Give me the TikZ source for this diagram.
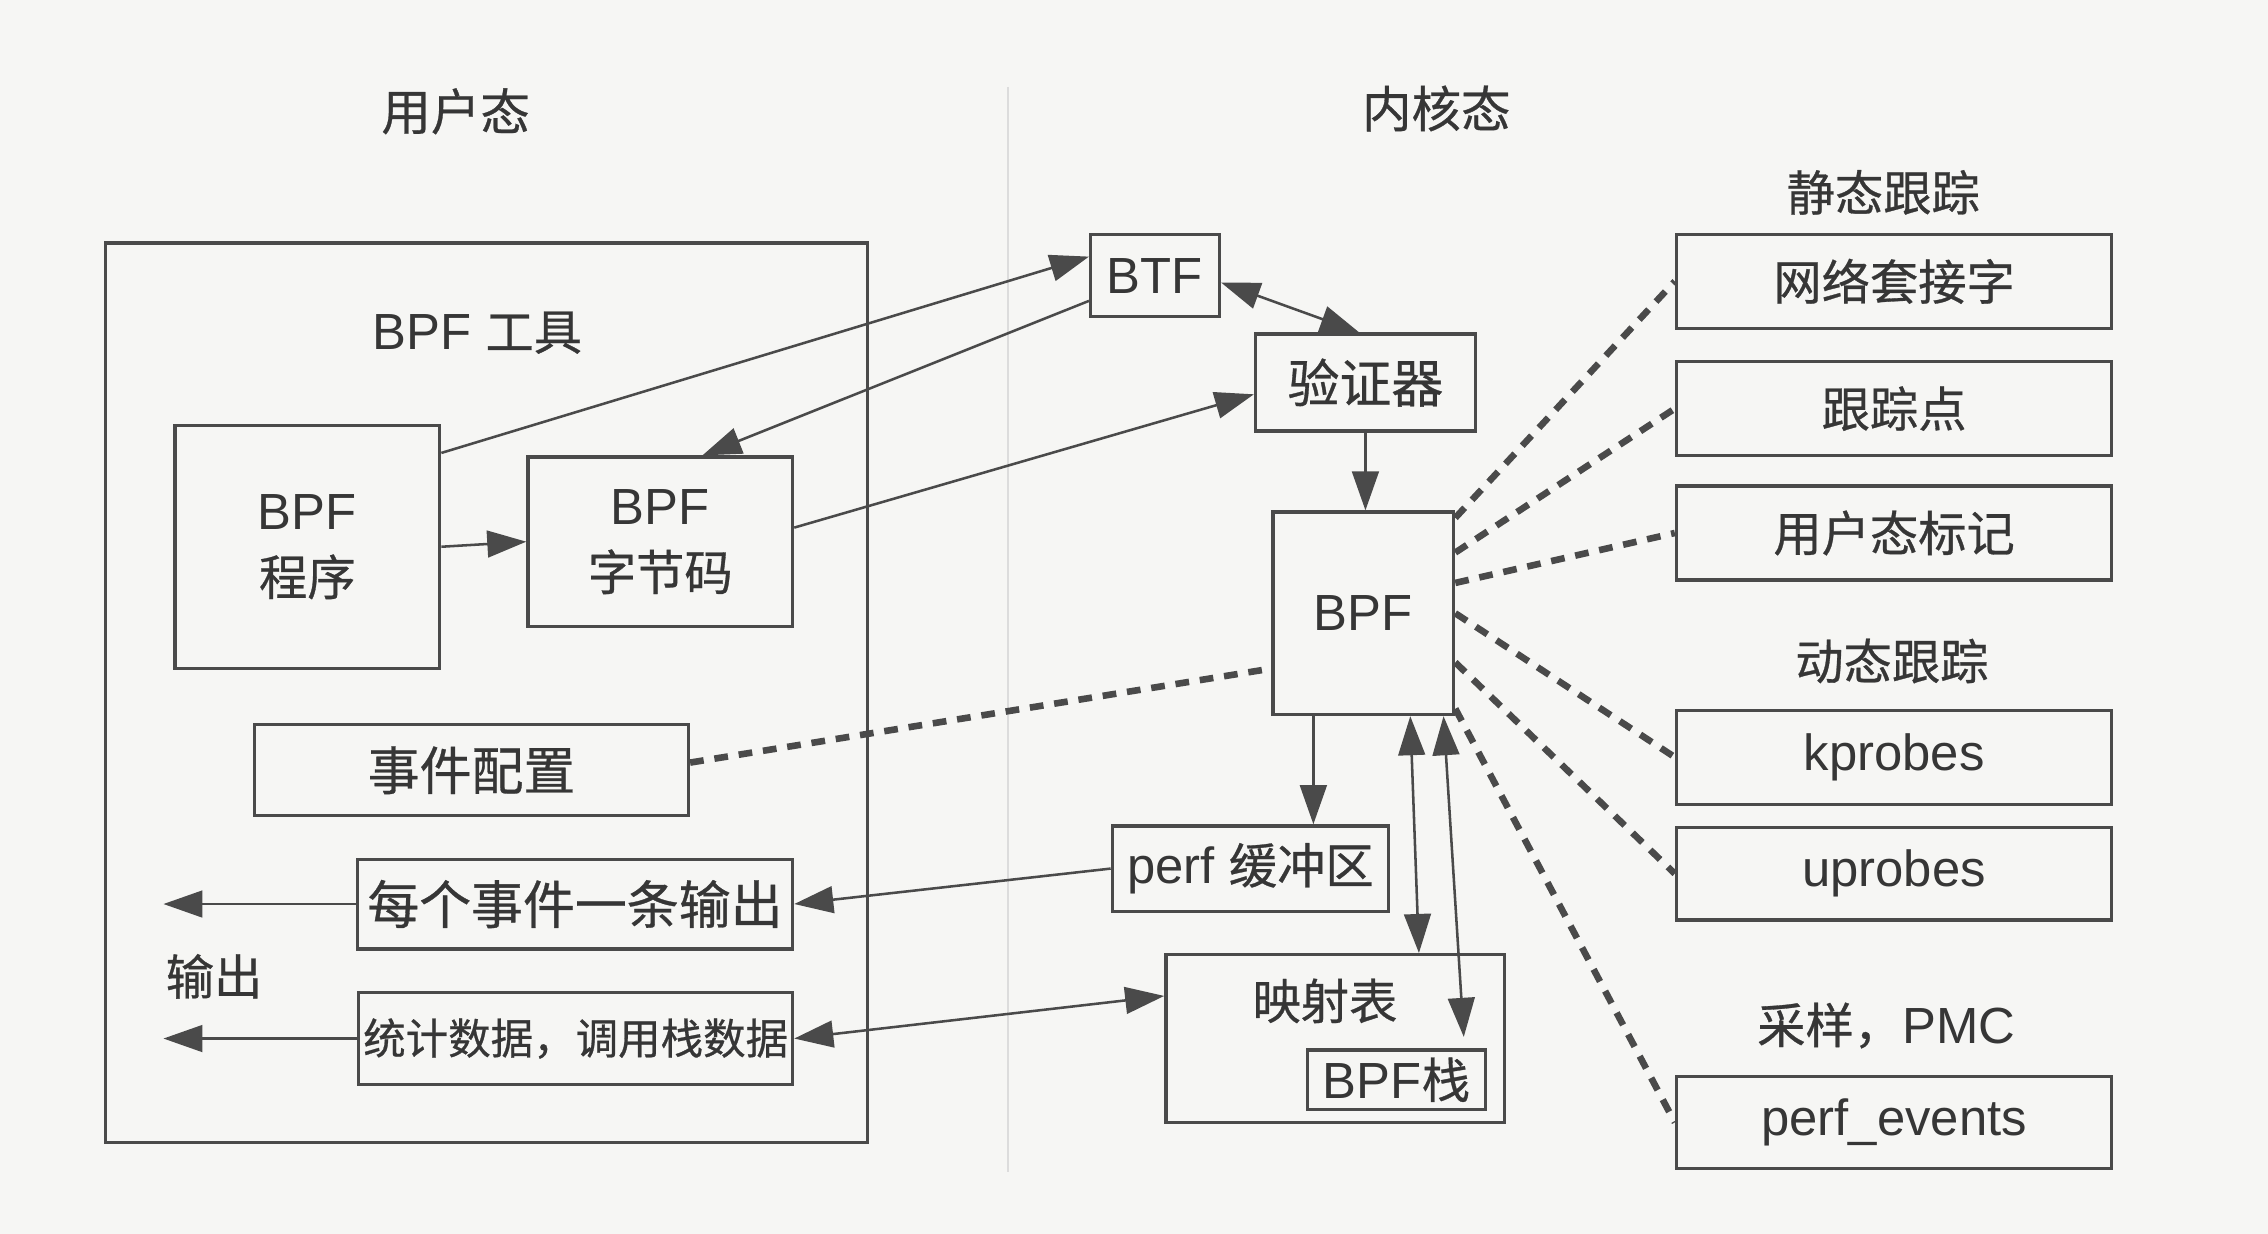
\documentclass[tikz,border=0pt]{standalone}
\usepackage{fontspec}
\setmainfont{Liberation Sans}
\newfontfamily\cjkfont[Scale=0.95,FakeBold=0.6]{Noto Sans CJK SC}
\usetikzlibrary{arrows.meta,calc}
\definecolor{bgc}{HTML}{F6F6F4}
\definecolor{linec}{HTML}{4A4A4A}
\definecolor{txtc}{HTML}{363636}
\definecolor{divc}{HTML}{DCDCDC}
\newcommand\zhtext[1]{{\cjkfont #1}}
\tikzset{
  box/.style={draw=linec, line width=1.3pt, fill=bgc, inner sep=0pt, align=center},
  lbl/.style={inner sep=0pt, align=center},
  big/.style={font=\fontsize{21.5}{26}\selectfont},
  tipa/.tip={Triangle[length=0.54cm,width=0.37cm]},
  arr/.style={draw=linec, line width=1pt, -tipa},
  darr/.style={draw=linec, line width=1pt, tipa-tipa},
  dotl/.style={draw=linec, line width=2.6pt, dash pattern=on 0.19cm off 0.15cm},
}
\begin{document}
\begin{tikzpicture}[x=0.02cm, y=-0.02cm, font=\fontsize{20}{26}\selectfont, text=txtc]
\fill[bgc] (0,0) rectangle (1568,853.1);
\useasboundingbox (0,0) rectangle (1568,853.1);
% divider
\draw[divc, line width=0.6pt] (697,60) -- (697,810);
% titles
\node[lbl, font=\fontsize{20.5}{26}\selectfont] (tuser) at (315,77) {\zhtext{用户态}};
\node[lbl, font=\fontsize{20.5}{26}\selectfont] (tkern) at (993,75) {\zhtext{内核态}};
% user side
\node[box, minimum width=10.54cm, minimum height=12.44cm] (tool) at (336.5,479) {};
\node[lbl] (tooll) at (330,230) {BPF \zhtext{工具}};
\node[box, minimum width=3.66cm, minimum height=3.36cm] (prog) at (212.5,378) {BPF\\\zhtext{程序}};
\node[box, minimum width=3.66cm, minimum height=2.34cm] (bc) at (456.5,374.5) {BPF\\\zhtext{字节码}};
\node[box, big, minimum width=6.0cm, minimum height=1.26cm] (evcfg) at (326,532.5) {\zhtext{事件配置}};
\node[box, big, minimum width=6.02cm, minimum height=1.24cm] (perev) at (397.5,625) {\zhtext{每个事件一条输出}};
\node[box, minimum width=6.0cm, minimum height=1.28cm, font=\fontsize{17.6}{20}\selectfont] (stats) at (398,718) {\zhtext{统计数据，调用栈数据}};
\node[lbl] (outl) at (148,675) {\zhtext{输出}};
\coordinate (o1) at (113,625);
\coordinate (o2) at (113,718);
% kernel side
\node[box, minimum width=1.78cm, minimum height=1.14cm] (btf) at (798.5,190.5) {BTF};
\node[box, big, minimum width=3.04cm, minimum height=1.34cm] (verif) at (944,264.5) {\zhtext{验证器}};
\node[box, minimum width=2.5cm, minimum height=2.8cm] (bpf) at (942.5,424) {BPF};
\node[box, minimum width=3.82cm, minimum height=1.18cm] (perfbuf) at (864.5,600.5) {perf \zhtext{缓冲区}};
\node[box, minimum width=4.68cm, minimum height=2.32cm] (maps) at (923,718) {};
\node[lbl] (mapsl) at (916,692) {\zhtext{映射表}};
\node[box, minimum width=2.46cm, minimum height=0.82cm] (stack) at (965.5,746.5) {BPF\zhtext{栈}};
% right side
\node[lbl] (stl) at (1302,133) {\zhtext{静态跟踪}};
\node[lbl] (dyl) at (1308,457) {\zhtext{动态跟踪}};
\node[lbl] (sal) at (1304,709) {\zhtext{采样，}PMC};
\node[box, minimum width=6.02cm, minimum height=1.3cm] (sock) at (1309.5,194.5) {\zhtext{网络套接字}};
\node[box, minimum width=6.02cm, minimum height=1.3cm] (tp) at (1309.5,282.5) {\zhtext{跟踪点}};
\node[box, minimum width=6.02cm, minimum height=1.3cm] (usdt) at (1309.5,368.5) {\zhtext{用户态标记}};
\node[box, minimum width=6.02cm, minimum height=1.3cm] (kp) at (1309.5,523.5) {kprobes};
\node[box, minimum width=6.02cm, minimum height=1.28cm] (up) at (1309.5,604) {uprobes};
\node[box, minimum width=6.02cm, minimum height=1.28cm] (pe) at (1309.5,776) {perf\_events};
% connectors
\draw[arr] (prog.east) -- (bc.west);
\draw[arr] (prog.35) -- (btf.164);
\draw[arr] (btf.201) -- (bc.64);
\draw[arr] (bc.6) -- (verif.186);
\draw[darr] (btf.354) -- (verif.97);
\draw[arr] (verif.south) -- (verif.south |- bpf.north);
\draw[dotl] (evcfg.2) -- (bpf.211);
\draw[arr] ([xshift=-0.69cm]bpf.south) -- ([xshift=-0.69cm]bpf.south |- perfbuf.north);
\draw[arr] (perfbuf.west) -- (perev.east);
\draw[darr] (stats.east) -- (maps.166);
\draw[darr] ([xshift=0.65cm]bpf.south) -- ([xshift=1.16cm]maps.north);
\draw[darr] ([xshift=1.11cm]bpf.south) -- ([xshift=0.93cm,yshift=0.16cm]stack.north);
\draw[arr] (perev.west) -- (o1);
\draw[arr] (stats.west) -- (o2);
\draw[dotl] ([yshift=1.32cm]bpf.east) -- (sock.west);
\draw[dotl] ([yshift=0.84cm]bpf.east) -- (tp.west);
\draw[dotl] ([yshift=0.42cm]bpf.east) -- (usdt.west);
\draw[dotl] (bpf.east) -- (kp.west);
\draw[dotl] ([yshift=-0.68cm]bpf.east) -- (up.west);
\draw[dotl] ([yshift=-1.32cm]bpf.east) -- (pe.west);
\end{tikzpicture}
\end{document}
